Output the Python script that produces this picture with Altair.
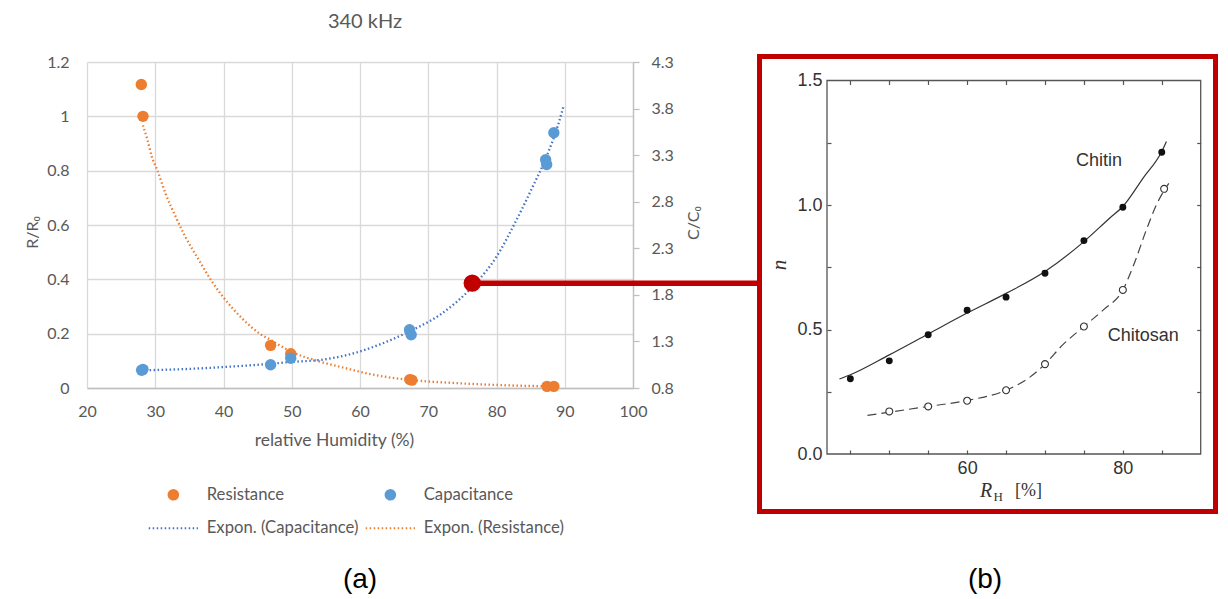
import altair as alt
import pandas as pd

# ---------------- data ----------------
SERIES = ["Resistance", "Capacitance", "Expon. (Capacitance)", "Expon. (Resistance)"]
SERIES_COLORS = ["#ED7D31", "#5B9BD5", "#4472C4", "#ED7D31"]

# (a) 340 kHz measurements
res_rh = [27.96, 28.2, 46.9, 49.85, 67.3, 67.6, 87.4, 88.4]
res_val = [1.117, 1.0, 0.157, 0.126, 0.031, 0.029, 0.006, 0.006]
cap_rh = [28.0, 28.2, 46.9, 49.85, 67.26, 67.5, 87.2, 87.35, 88.4]
cap_val = [0.99, 1.0, 1.05, 1.12, 1.425, 1.371, 3.25, 3.20, 3.54]

# (a) trend lines
res_trend_rh = [28.2, 28.8, 29.5, 30.3, 31.5, 33.0, 34.4, 36.4, 38.3, 40.3, 42.7,
                45.2, 46.9, 49.9, 54.0, 57.9, 61.9, 67.3, 74.1, 81.4, 88.4]
res_trend_val = [0.967, 0.918, 0.851, 0.802, 0.716, 0.630, 0.557, 0.471, 0.392, 0.324, 0.257,
                 0.202, 0.177, 0.134, 0.098, 0.073, 0.049, 0.030, 0.018, 0.010, 0.006]
cap_trend_rh = [28.0, 35.0, 40.0, 46.9, 50.0, 54.0, 57.9, 61.9, 67.3, 71.7, 76.5,
                80.0, 82.9, 85.3, 87.3, 89.0, 89.8]
cap_trend_val = [0.99, 1.005, 1.025, 1.06, 1.08, 1.10, 1.15, 1.24, 1.41, 1.585, 1.89,
                 2.21, 2.60, 2.96, 3.28, 3.62, 3.82]

# highlighted point
mark_rh = [76.45]
mark_c = [1.925]

# (b) chitin / chitosan
chitin_rh = [45, 50, 55, 60, 65, 70, 75, 80, 85]
chitin_n = [0.302, 0.374, 0.479, 0.577, 0.630, 0.726, 0.857, 0.991, 1.212]
chitosan_rh = [50, 55, 60, 65, 70, 75, 80, 85.3]
chitosan_n = [0.171, 0.191, 0.214, 0.256, 0.361, 0.512, 0.659, 1.065]
chitin_curve_rh = [43.6, 45, 50, 55, 60, 65, 70, 75, 78.3, 80, 82.6, 85, 85.6]
chitin_curve_n = [0.301, 0.318, 0.398, 0.482, 0.566, 0.645, 0.733, 0.853, 0.947, 0.994, 1.108, 1.215, 1.255]
chitosan_curve_rh = [47.2, 50, 55, 60, 65, 67.9, 70, 72.3, 75, 77.5, 80, 81.4, 83.1, 84.3, 85.9]
chitosan_curve_n = [0.155, 0.168, 0.191, 0.215, 0.256, 0.305, 0.361, 0.439, 0.512, 0.579, 0.659,
                    0.76, 0.907, 1.0, 1.087]

# tick labels
A_X_TICKS = [20, 30, 40, 50, 60, 70, 80, 90, 100]
A_Y_TICKS = [0, 0.2, 0.4, 0.6, 0.8, 1, 1.2]
A_Y2_TICKS = [0.8, 1.3, 1.8, 2.3, 2.8, 3.3, 3.8, 4.3]
B_X_LABELS = [60, 80]
B_X_TICKS = [45, 50, 55, 60, 65, 70, 75, 80, 85]
B_Y_LABELS = [0, 0.5, 1.0, 1.5]
B_Y_TICKS = [0.25, 0.5, 0.75, 1.0, 1.25]

# ---------------- tables ----------------
res_pts = pd.DataFrame({"rh": res_rh, "val": res_val, "series": SERIES[0]})
cap_pts = pd.DataFrame({"rh": cap_rh, "val": cap_val, "series": SERIES[1]})
cap_tr = pd.DataFrame({"rh": cap_trend_rh, "val": cap_trend_val, "series": SERIES[2]})
res_tr = pd.DataFrame({"rh": res_trend_rh, "val": res_trend_val, "series": SERIES[3]})
mark_df = pd.DataFrame({"rh": mark_rh, "val": mark_c})
chitin_df = pd.DataFrame({"rh": chitin_rh, "n": chitin_n})
chitosan_df = pd.DataFrame({"rh": chitosan_rh, "n": chitosan_n})
chitin_curve = pd.DataFrame({"rh": chitin_curve_rh, "n": chitin_curve_n})
chitosan_curve = pd.DataFrame({"rh": chitosan_curve_rh, "n": chitosan_curve_n})
one = pd.DataFrame({"k": [0]})

GRAY_TXT = "#595959"
FONT_A = "Lato"
FONT_B = "Liberation Sans"

# ---------------- scales ----------------
SX_A = alt.Scale(domain=[20, 100], nice=False, zero=False)
SY_A = alt.Scale(domain=[0, 1.2], nice=False, zero=False)
SY_A2 = alt.Scale(domain=[0.8, 4.3], nice=False, zero=False)
SX_B = alt.Scale(domain=[42, 90], range=[740, 1113.7], nice=False, zero=False)
SY_B = alt.Scale(domain=[0, 1.5], range=[392, 18.5], nice=False, zero=False)

LEG = alt.Legend(title=None, orient="none", legendX=78, legendY=424, columns=2,
                 direction="horizontal", columnPadding=2, rowPadding=16, labelFont=FONT_A,
                 labelFontSize=16.7, labelColor=GRAY_TXT, labelOffset=25,
                 symbolStrokeWidth=2, symbolSize=90)
LINE_SYM = "M-5.2,0L5.2,0"
COLOR = alt.Color("series:N", scale=alt.Scale(domain=SERIES, range=SERIES_COLORS), legend=LEG)
SHAPE = alt.Shape("series:N", scale=alt.Scale(domain=SERIES, range=["circle", "circle", LINE_SYM, LINE_SYM]), legend=LEG)
DASH = alt.StrokeDash("series:N", scale=alt.Scale(domain=SERIES, range=[[1, 0], [1, 0], [1.5, 2.5], [1.5, 2.5]]), legend=LEG)

# ---------------- axes ----------------
AX_XA = alt.Axis(orient="bottom", values=A_X_TICKS, grid=True, gridColor="#d9d9d9", gridWidth=1.3,
                 domain=True, domainColor="#bfbfbf", domainWidth=1.3, ticks=False, tickSize=0,
                 labelPadding=15, labelFont=FONT_A, labelFontSize=16, labelColor=GRAY_TXT,
                 labelFlush=False, title="relative Humidity (%)", titleFont=FONT_A, titleFontSize=17.5,
                 titleFontWeight="normal", titleColor=GRAY_TXT, titleX=247, titleY=52,
                 titleAlign="center", titleBaseline="middle")
AX_YA = alt.Axis(orient="left", values=A_Y_TICKS, format="~g", grid=True, gridColor="#d9d9d9",
                 gridWidth=1.3, domain=False, ticks=False, tickSize=0, labelPadding=18,
                 labelFont=FONT_A, labelFontSize=16, labelColor=GRAY_TXT,
                 title="R/R₀", titleFont=FONT_A, titleFontSize=16, titleFontWeight="normal",
                 titleColor=GRAY_TXT, titleX=-55, titleY=170, titleAngle=270,
                 titleAlign="center", titleBaseline="middle")
AX_YA2 = alt.Axis(orient="right", values=A_Y2_TICKS, format="~g", grid=False, domain=True,
                  domainColor="#bfbfbf", domainWidth=1.3, ticks=True, tickColor="#bfbfbf",
                  tickSize=6, tickWidth=1.3, labelPadding=12, labelFont=FONT_A, labelFontSize=16,
                  labelColor=GRAY_TXT, title=None)
AX_XB = alt.Axis(orient="bottom", offset=66, values=B_X_LABELS, grid=False, domain=False,
                 ticks=False, tickSize=0, labelPadding=5, labelFont=FONT_B, labelFontSize=18,
                 labelColor="#333333", labelFlush=False, title=None)
AX_YB = alt.Axis(orient="left", offset=-740, values=B_Y_LABELS, format=".1f", grid=False,
                 domain=False, ticks=False, tickSize=0, labelPadding=5, labelFont=FONT_B,
                 labelFontSize=18, labelColor="#333333", title=None)


def tick_axis(orient, offset, values):
    return alt.Axis(orient=orient, offset=offset, values=values, grid=False, domain=False,
                    labels=False, ticks=True, tickSize=4, tickColor="#555555", tickWidth=1.2,
                    title=None)


XA = alt.X("rh:Q", scale=SX_A, axis=AX_XA)
XA_n = alt.X("rh:Q", scale=SX_A, axis=None)
YA = alt.Y("val:Q", scale=SY_A, axis=AX_YA)
YA2 = alt.Y("val:Q", scale=SY_A2, axis=AX_YA2)

# ---------------- (a) ----------------
gA1 = alt.layer(
    alt.Chart(res_tr).mark_line(strokeWidth=2.3, interpolate="monotone").encode(
        x=XA, y=YA, color=COLOR, strokeDash=DASH),
    alt.Chart(res_pts).mark_point(filled=True, size=130, opacity=1).encode(
        x=XA, y=YA, color=COLOR, shape=SHAPE),
)
# right-hand (C/C0) scale: every child carries the same axis definition
gA2 = alt.layer(
    alt.Chart(cap_tr).mark_line(strokeWidth=2.3, interpolate="monotone").encode(
        x=XA_n, y=YA2, color=COLOR, strokeDash=DASH),
    alt.Chart(cap_pts).mark_point(filled=True, size=130, opacity=1).encode(
        x=XA_n, y=YA2, color=COLOR, shape=SHAPE),
    alt.Chart(mark_df).mark_rule(color="#C00000", strokeWidth=5.5).encode(
        x=XA_n, x2=alt.value(670), y=YA2),
    alt.Chart(mark_df).mark_point(filled=True, size=300, opacity=1, color="#C00000").encode(
        x=XA_n, y=YA2),
)

# ---------------- (b) ----------------
XB_n = alt.X("rh:Q", scale=SX_B, axis=None)
YB_n = alt.Y("n:Q", scale=SY_B, axis=None)

gB = alt.layer(
    alt.Chart(one).mark_rect(fillOpacity=0, stroke="#555555", strokeWidth=1.3).encode(
        x=alt.XDatum(42, type="quantitative", scale=SX_B, axis=None), x2=alt.X2Datum(90),
        y=alt.YDatum(0, type="quantitative", scale=SY_B, axis=None), y2=alt.Y2Datum(1.5)),
    alt.Chart(chitin_curve).mark_line(color="#333333", strokeWidth=1.2, interpolate="monotone").encode(
        x=XB_n, y=YB_n),
    alt.Chart(chitosan_curve).mark_line(color="#444444", strokeWidth=1.2, strokeDash=[9, 5],
                                        interpolate="monotone").encode(x=XB_n, y=YB_n),
    alt.Chart(chitin_df).mark_point(filled=True, size=48, opacity=1, color="#111111").encode(
        x=XB_n, y=YB_n),
    alt.Chart(chitosan_df).mark_point(filled=False, fill="white", fillOpacity=1, stroke="#333333",
                                      strokeWidth=1.1, size=48, opacity=1).encode(x=XB_n, y=YB_n),
    alt.Chart(one).mark_text(text="Chitin", font=FONT_B, fontSize=18, color="#333333",
                             align="center", baseline="middle").encode(
        x=alt.XDatum(76.93, type="quantitative", scale=SX_B, axis=None),
        y=alt.YDatum(1.178, type="quantitative", scale=SY_B, axis=None)),
    alt.Chart(one).mark_text(text="Chitosan", font=FONT_B, fontSize=18, color="#333333",
                             align="center", baseline="middle").encode(
        x=alt.XDatum(82.62, type="quantitative", scale=SX_B, axis=None),
        y=alt.YDatum(0.4735, type="quantitative", scale=SY_B, axis=None)),
)

# axes of (b): labelled axes plus inward ticks on all four sides
gB_axes = alt.Chart(chitin_df).mark_point(opacity=0).encode(
    x=alt.X("rh:Q", scale=SX_B, axis=AX_XB),
    y=alt.Y("n:Q", scale=SY_B, axis=AX_YB))
gH1 = alt.Chart(chitin_df).mark_point(opacity=0).encode(
    x=alt.X("rh:Q", scale=SX_B, axis=tick_axis("bottom", 62, B_X_TICKS)),
    y=alt.Y("n:Q", scale=SY_B, axis=tick_axis("left", -744, B_Y_TICKS)))
gH2 = alt.Chart(chitin_df).mark_point(opacity=0).encode(
    x=alt.X("rh:Q", scale=SX_B, axis=tick_axis("top", -22.5, B_X_TICKS)),
    y=alt.Y("n:Q", scale=SY_B, axis=tick_axis("right", 563.7, B_Y_TICKS)))

# ---------------- annotations ----------------
lab_c = alt.Chart(one).mark_text(text="C/C₀", font=FONT_A, fontSize=16, color=GRAY_TXT,
                                 align="center", baseline="middle", angle=270).encode(
    x=alt.value(607), y=alt.value(161))
red_box = alt.Chart(one).mark_rect(fillOpacity=0, stroke="#C00000", strokeWidth=5).encode(
    x=alt.value(672.5), x2=alt.value(1128.5), y=alt.value(-5.5), y2=alt.value(449.5))
lab_a = alt.Chart(one).mark_text(text="(a)", font=FONT_B, fontSize=28, color="#000000",
                                 align="center", baseline="middle").encode(
    x=alt.value(273), y=alt.value(518))
lab_b = alt.Chart(one).mark_text(text="(b)", font=FONT_B, fontSize=28, color="#000000",
                                 align="center", baseline="middle").encode(
    x=alt.value(898), y=alt.value(518))
lab_R = alt.Chart(one).mark_text(text="R", font="Liberation Serif", fontStyle="italic", fontSize=20,
                                 color="#333333", align="left", baseline="alphabetic").encode(
    x=alt.value(893), y=alt.value(435))
lab_H = alt.Chart(one).mark_text(text="H", font="Liberation Serif", fontSize=13,
                                 color="#333333", align="left", baseline="alphabetic").encode(
    x=alt.value(906.5), y=alt.value(439))
lab_pct = alt.Chart(one).mark_text(text="[%]", font="Liberation Serif", fontSize=18,
                                   color="#333333", align="left", baseline="alphabetic").encode(
    x=alt.value(928), y=alt.value(434))
lab_n = alt.Chart(one).mark_text(text="n", font="Liberation Serif", fontStyle="italic", fontSize=21,
                                 color="#333333", align="center", baseline="middle", angle=270).encode(
    x=alt.value(693), y=alt.value(203))

chart = alt.layer(
    gA1, gA2, gB, gB_axes, gH1, gH2, lab_c, red_box, lab_a, lab_b, lab_R, lab_H, lab_pct, lab_n
).resolve_scale(
    x="independent", y="independent"
).properties(
    width=546, height=326,
    title=alt.TitleParams(text="340 kHz", font=FONT_A, fontSize=20, fontWeight="normal",
                          color=GRAY_TXT, anchor="middle", frame="group", offset=6, dx=5,
                          baseline="alphabetic"),
    autosize=alt.AutoSizeParams(type="none"),
    padding={"left": 79, "top": 54, "right": 587, "bottom": 211},
).configure_view(stroke="transparent")

chart.save("out.html", embed_options={"renderer": "svg", "actions": False})
